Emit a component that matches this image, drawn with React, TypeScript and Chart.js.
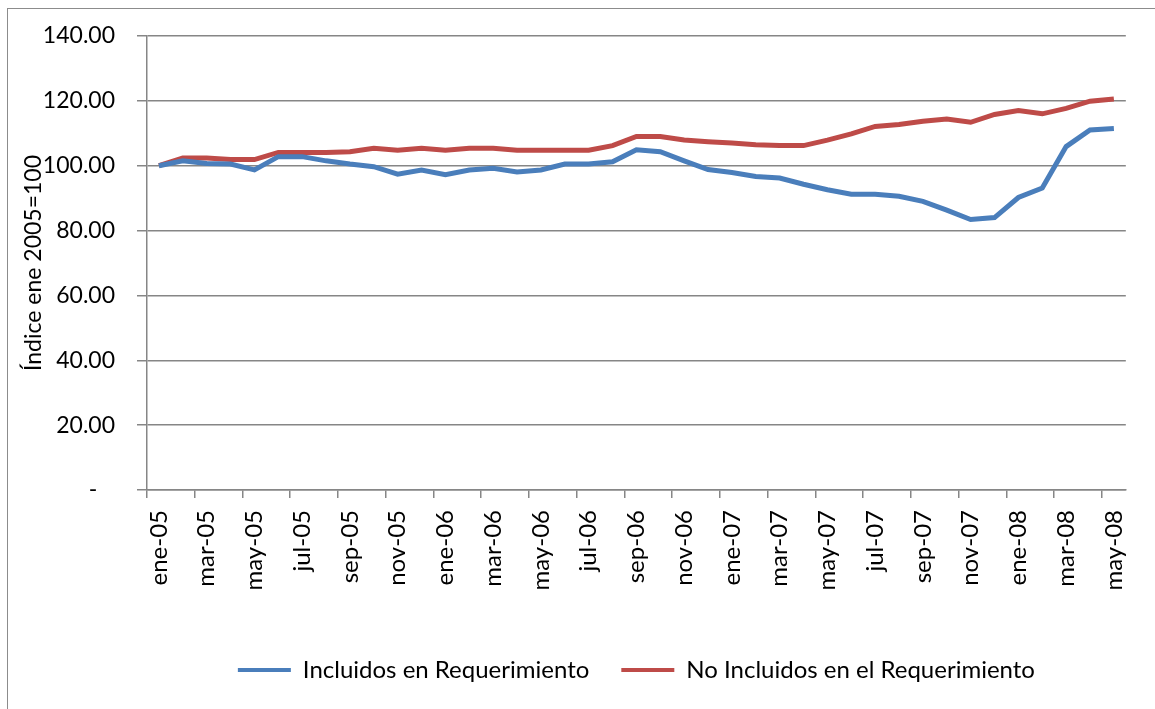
import React, { useEffect, useRef } from 'react';
import { Chart, registerables } from 'chart.js';

Chart.register(...registerables);

const categories: string[] = [
  'ene-05', 'feb-05', 'mar-05', 'abr-05', 'may-05', 'jun-05', 'jul-05', 'ago-05', 'sep-05', 'oct-05', 'nov-05', 'dic-05',
  'ene-06', 'feb-06', 'mar-06', 'abr-06', 'may-06', 'jun-06', 'jul-06', 'ago-06', 'sep-06', 'oct-06', 'nov-06', 'dic-06',
  'ene-07', 'feb-07', 'mar-07', 'abr-07', 'may-07', 'jun-07', 'jul-07', 'ago-07', 'sep-07', 'oct-07', 'nov-07', 'dic-07',
  'ene-08', 'feb-08', 'mar-08', 'abr-08', 'may-08',
];

const incluidos: number[] = [
  100, 101.5, 100.7, 100.5, 98.7, 102.8, 102.8, 101.5, 100.5, 99.7, 97.4, 98.7,
  97.2, 98.7, 99.2, 98.1, 98.7, 100.5, 100.5, 101.2, 104.9, 104.3, 101.5, 98.8,
  97.9, 96.7, 96.2, 94.3, 92.6, 91.2, 91.2, 90.6, 89.0, 86.3, 83.4, 84.0,
  90.2, 93.1, 105.9, 111.0, 111.5,
];

const noIncluidos: number[] = [
  100, 102.4, 102.4, 101.9, 101.9, 104.1, 104.1, 104.1, 104.3, 105.4, 104.8, 105.4,
  104.8, 105.4, 105.4, 104.8, 104.8, 104.8, 104.8, 106.2, 109.0, 109.0, 107.9, 107.4,
  107.0, 106.5, 106.2, 106.2, 107.9, 109.8, 112.1, 112.7, 113.7, 114.4, 113.4, 115.8,
  117.0, 116.0, 117.7, 119.9, 120.6,
];

const seriesNames: string[] = ['Incluidos en Requerimiento', 'No Incluidos en el Requerimiento'];
const yTicks: number[] = [0, 20, 40, 60, 80, 100, 120, 140];
const yTitle = 'Índice ene 2005=100';

const BLUE = '#4a7ebb';
const RED = '#be4b48';
const GRID = '#868686';
const FONT = 'Lato, "Open Sans", sans-serif';

export default function App() {
  const ref = useRef<HTMLCanvasElement | null>(null);

  useEffect(() => {
    const canvas = ref.current;
    if (!canvas) return;
    const chart = new Chart(canvas, {
      type: 'line',
      data: {
        labels: categories,
        datasets: [
          {
            label: seriesNames[0],
            data: incluidos,
            borderColor: BLUE,
            backgroundColor: BLUE,
            borderWidth: 5,
            pointRadius: 0,
            tension: 0,
          },
          {
            label: seriesNames[1],
            data: noIncluidos,
            borderColor: RED,
            backgroundColor: RED,
            borderWidth: 5,
            pointRadius: 0,
            tension: 0,
          },
        ],
      },
      options: {
        responsive: false,
        animation: false,
        devicePixelRatio: 1,
        layout: { padding: { left: 11, top: 36, right: 26, bottom: 17 } },
        plugins: {
          tooltip: { enabled: false },
          legend: {
            position: 'bottom',
            fullSize: false,
            labels: {
              color: '#000',
              font: { family: FONT, size: 24 },
              boxWidth: 53,
              boxHeight: 4,
              padding: 32,
              generateLabels: (c: any) => {
                const items = Chart.defaults.plugins.legend.labels.generateLabels(c);
                return items.map((it: any) => ({ ...it, lineWidth: 0 }));
              },
            },
          },
        },
        scales: {
          x: {
            type: 'category',
            offset: true,
            afterFit: (s: any) => { s.height = 136; },
            grid: {
              offset: true,
              drawOnChartArea: false,
              drawTicks: true,
              tickLength: 8,
              lineWidth: 1.5,
              color: (ctx: any) => (ctx.index !== undefined && ctx.index % 2 === 0 ? GRID : 'rgba(0,0,0,0)'),
            },
            border: { display: true, color: GRID, width: 1.5 },
            ticks: {
              autoSkip: false,
              minRotation: 90,
              maxRotation: 90,
              padding: 12,
              color: '#000',
              font: { family: FONT, size: 24 },
              callback: (_v: any, i: number) => (i % 2 === 0 ? categories[i] : ''),
            },
          },
          y: {
            min: 0,
            max: 140,
            afterFit: (s: any) => { s.width = 136; },
            afterBuildTicks: (s: any) => { s.ticks = yTicks.map((v) => ({ value: v })); },
            grid: {
              color: GRID,
              lineWidth: 1.5,
              tickLength: 10,
            },
            border: { display: true, color: GRID, width: 1.5 },
            ticks: {
              padding: 22,
              color: '#000',
              font: { family: FONT, size: 23 },
              callback: (v: any) => (Number(v) === 0 ? '-   ' : Number(v).toFixed(2)),
            },
            title: {
              display: true,
              text: yTitle,
              color: '#000',
              font: { family: FONT, size: 23 },
              padding: { top: 9, bottom: 0 },
            },
          },
        },
      },
    } as any);
    return () => chart.destroy();
  }, []);

  return (
    <div>
      <div
        style={{
          position: 'fixed',
          left: 7,
          top: 8,
          width: 1170,
          height: 730,
          border: '1.5px solid #8c8c8c',
          boxSizing: 'border-box',
          pointerEvents: 'none',
        }}
      />
      <canvas
        ref={ref}
        width={1155}
        height={709}
        style={{ position: 'fixed', left: 0, top: 0, width: 1155, height: 709, display: 'block' }}
      />
    </div>
  );
}
